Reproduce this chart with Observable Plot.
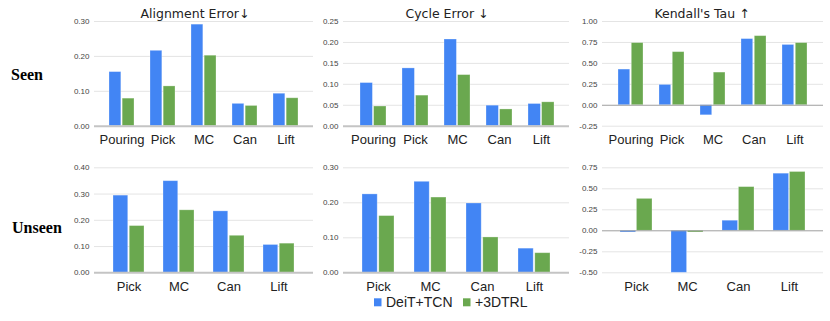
<!DOCTYPE html>
<html><head><meta charset="utf-8">
<script src="https://cdn.jsdelivr.net/npm/d3@7"></script>
<script src="https://cdn.jsdelivr.net/npm/@observablehq/plot@0.6"></script>
<style>
body{margin:0;background:#fff;}
#wrap{position:relative;width:830px;height:321px;overflow:hidden;}
#wrap > svg, #wrap > figure, #wrap > div.p {position:absolute;margin:0;}
</style></head><body><div id="wrap"></div>
<script>
const series = ["DeiT+TCN", "+3DTRL"];
const colors = ["#4285F4", "#6AA84F"];
const seenCats = ["Pouring", "Pick", "MC", "Can", "Lift"];
const unseenCats = ["Pick", "MC", "Can", "Lift"];

const seenAlignBase = [0.155, 0.216, 0.291, 0.064, 0.093];
const seenAlignOurs = [0.079, 0.114, 0.202, 0.058, 0.080];
const seenCycleBase = [0.103, 0.138, 0.207, 0.049, 0.053];
const seenCycleOurs = [0.047, 0.073, 0.122, 0.040, 0.057];
const seenTauBase = [0.426, 0.243, -0.12, 0.79, 0.72];
const seenTauOurs = [0.742, 0.634, 0.39, 0.825, 0.742];

const unseenAlignBase = [0.294, 0.349, 0.234, 0.106];
const unseenAlignOurs = [0.178, 0.238, 0.141, 0.111];
const unseenCycleBase = [0.224, 0.260, 0.198, 0.069];
const unseenCycleOurs = [0.162, 0.215, 0.101, 0.056];
const unseenTauBase = [-0.02, -0.50, 0.12, 0.68];
const unseenTauOurs = [0.38, -0.02, 0.52, 0.70];

const ticksSeenAlign = [0, 0.1, 0.2, 0.3];
const ticksSeenCycle = [0, 0.05, 0.1, 0.15, 0.2, 0.25];
const ticksSeenTau = [-0.25, 0, 0.25, 0.5, 0.75, 1];
const ticksUnseenAlign = [0, 0.1, 0.2, 0.3, 0.4];
const ticksUnseenCycle = [0, 0.1, 0.2, 0.3];
const ticksUnseenTau = [-0.5, -0.25, 0, 0.25, 0.5, 0.75];

const titles = ["Alignment Error↓", "Cycle Error ↓", "Kendall's Tau ↑"];
const rowLabels = ["Seen", "Unseen"];

const wrap = document.getElementById("wrap");

function panel(cfg) {
  const {cats, base, ours, ticks, left, top, width, height, ml, mr, mt, mb, inset, pad} = cfg;
  const data = cats.flatMap((c, i) => [
    {cat: c, s: series[0], v: base[i]},
    {cat: c, s: series[1], v: ours[i]}
  ]);
  const rangeW = width - ml - mr - inset[0] - inset[1];
  const step = rangeW / cats.length;
  const half = step * (1 - pad) / 2;
  const zeroAtMin = ticks[0] === 0;
  const svg = Plot.plot({
    width, height,
    marginLeft: ml, marginRight: mr, marginTop: mt, marginBottom: mb,
    style: {background: "transparent", overflow: "visible", fontFamily: "'Liberation Sans', Arial, sans-serif"},
    x: {domain: cats, paddingInner: pad, paddingOuter: pad / 2, insetLeft: inset[0], insetRight: inset[1]},
    y: {domain: [ticks[0], ticks[ticks.length - 1]]},
    marks: [
      Plot.ruleY(ticks.filter(t => t !== 0), {stroke: "#e4e4e4", strokeWidth: 1}),
      Plot.barY(data.filter(d => d.s === series[0]), {x: "cat", y: "v", fill: colors[0], insetRight: half + 0.6, stroke: "#ffffff", strokeOpacity: 0.35, strokeWidth: 0.8}),
      Plot.barY(data.filter(d => d.s === series[1]), {x: "cat", y: "v", fill: colors[1], insetLeft: half + 0.6, stroke: "#ffffff", strokeOpacity: 0.35, strokeWidth: 0.8}),
      Plot.ruleY([0], {stroke: zeroAtMin ? "#c4c4c4" : "#9e9e9e", strokeWidth: zeroAtMin ? 2 : 1}),
      Plot.axisX({tickSize: 0, tickPadding: 9, fontSize: 13, fill: "#222", label: null}),
      Plot.axisY({ticks, tickSize: 0, tickPadding: 5, fontSize: 8, fill: "#444", label: null, tickFormat: d => d.toFixed(2)})
    ]
  });
  svg.style.left = left + "px";
  svg.style.top = top + "px";
  wrap.appendChild(svg);
}

// top row: frame y 21..125.7
const topCfg = {top: 0, height: 150, mt: 21, mb: 24.3, inset: [7, 6], pad: 0.39};
const botCfg = {top: 150, height: 171, mt: 17.3, mb: 48.7, inset: [8.5, 8.5], pad: 0.38};
const cols = [
  {left: 40, width: 280, ml: 54, mr: 7},
  {left: 300, width: 275, ml: 43, mr: 6},
  {left: 570, width: 260, ml: 32, mr: 7}
];

panel({...topCfg, ...cols[0], cats: seenCats, base: seenAlignBase, ours: seenAlignOurs, ticks: ticksSeenAlign});
panel({...topCfg, ...cols[1], cats: seenCats, base: seenCycleBase, ours: seenCycleOurs, ticks: ticksSeenCycle});
panel({...topCfg, ...cols[2], cats: seenCats, base: seenTauBase, ours: seenTauOurs, ticks: ticksSeenTau});
panel({...botCfg, ...cols[0], cats: unseenCats, base: unseenAlignBase, ours: unseenAlignOurs, ticks: ticksUnseenAlign});
panel({...botCfg, ...cols[1], cats: unseenCats, base: unseenCycleBase, ours: unseenCycleOurs, ticks: ticksUnseenCycle});
panel({...botCfg, ...cols[2], cats: unseenCats, base: unseenTauBase, ours: unseenTauOurs, ticks: ticksUnseenTau});

// overlay: titles, row labels, legend
const ov = d3.create("svg").attr("width", 830).attr("height", 321)
  .style("position", "absolute").style("left", "0px").style("top", "0px");
const titleX = [195, 447, 702];
titles.forEach((t, i) => {
  ov.append("text").attr("x", titleX[i]).attr("y", 18).attr("text-anchor", "middle")
    .attr("font-family", "'DejaVu Sans', sans-serif").attr("font-size", 12.5).attr("fill", "#222").text(t);
});
const rowY = [79.5, 233.3];
const rowX = [11, 12];
rowLabels.forEach((t, i) => {
  ov.append("text").attr("x", rowX[i]).attr("y", rowY[i])
    .attr("font-family", "'Liberation Serif', 'Times New Roman', serif").attr("font-weight", "bold")
    .attr("font-size", 16).attr("fill", "#000").text(t);
});
const legX = [374, 463];
series.forEach((s, i) => {
  ov.append("rect").attr("x", legX[i]).attr("y", 298.3).attr("width", 7.5).attr("height", 8).attr("fill", colors[i]);
  ov.append("text").attr("x", legX[i] + 12).attr("y", 306.6)
    .attr("font-family", "'Liberation Sans', Arial, sans-serif").attr("font-size", 14).attr("fill", "#222").text(s);
});
wrap.appendChild(ov.node());
</script>
</body></html>
